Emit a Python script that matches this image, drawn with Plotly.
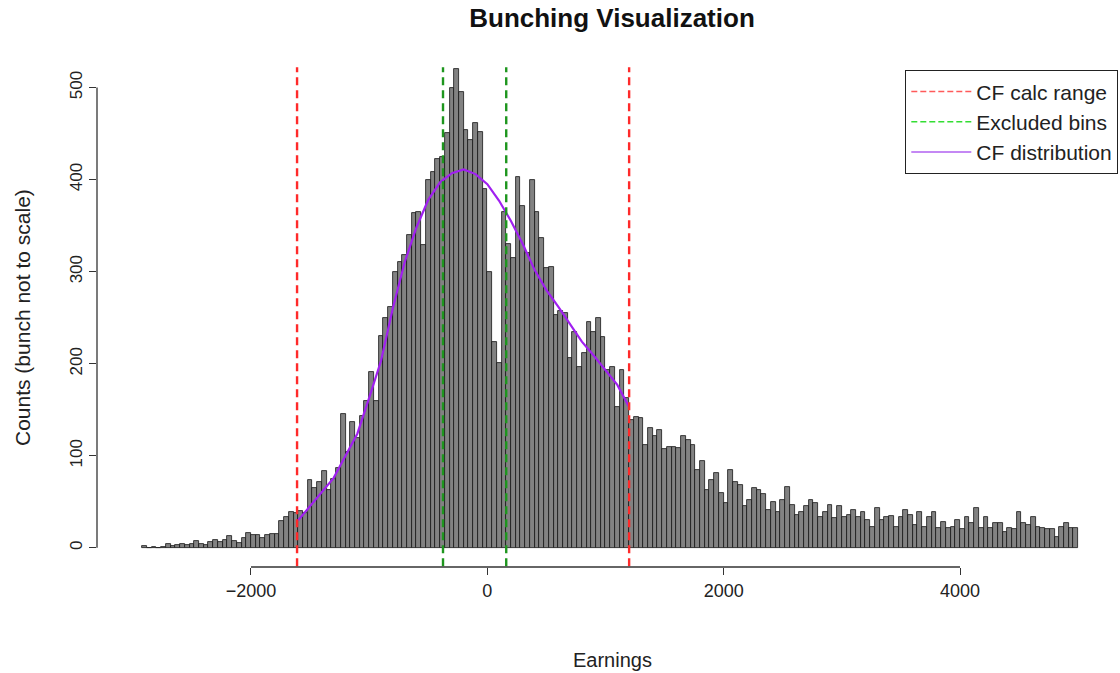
import numpy as np
import plotly.graph_objects as go

# ---------------- data ----------------
BIN_START = -2920
BIN_WIDTH = 40

counts_left = [2, 0, 1, 0, 1, 4, 2, 3, 4, 3, 4, 7, 4, 3, 6, 9, 6, 8, 13, 7,
               5, 11, 16, 14, 14, 11, 14, 15, 15, 29, 34, 39, 38, 40]
counts_rise = [38, 74, 65, 72, 83, 63, 75, 87, 145, 104, 137, 119, 143, 160, 191,
               159, 230, 250, 262, 300, 311, 318, 340, 364, 365, 329]
counts_peak = [400, 408, 422, 425, 451, 500, 520, 495, 454, 443, 462, 452, 390,
               300, 224, 201, 365]
counts_shoulder = [330, 315, 403, 371, 320, 400, 365, 337, 304, 305, 253, 257, 255,
                   206, 235, 197, 212, 245, 235, 250, 229, 193, 197, 153, 193, 163, 139]
counts_tail = [142, 141, 112, 130, 121, 128, 107, 110, 110, 108, 121, 117, 112, 85,
               94, 63, 74, 81, 60, 49, 85, 72, 68, 45, 52, 65, 63, 58, 41, 50, 39,
               52, 66, 47, 36, 39, 45, 52, 49, 34, 39, 47, 32, 45]
counts_far = [33, 36, 41, 33, 39, 30, 23, 43, 30, 33, 35, 23, 33, 41, 36, 25, 39,
              23, 33, 39, 22, 28, 22, 23, 30, 20, 33, 27, 43, 22, 34, 22, 27, 27,
              17, 22, 20, 39, 27, 25, 33, 23, 22, 20, 20, 12, 23, 27, 22, 22]

counts = counts_left + counts_rise + counts_peak + counts_shoulder + counts_tail + counts_far
centers = BIN_START + BIN_WIDTH * (np.arange(len(counts)) + 0.5)

cf_x = [-1600, -1500, -1400, -1300, -1200, -1100, -1000, -900, -800, -700, -600,
        -500, -400, -300, -200, -100, 0, 100, 200, 300, 400, 500, 600, 700, 800,
        900, 1000, 1100, 1200]
cf_y = [30, 45, 60, 76, 100, 124, 163, 203, 260, 310, 348, 378, 397, 407, 411,
        406, 395, 377, 355, 330, 302, 280, 262, 243, 224, 209, 193, 177, 153]

cf_range = [-1610, 1200]
excluded = [-375, 160]

x_ticks = [-2000, 0, 2000, 4000]
y_ticks = [0, 100, 200, 300, 400, 500]

# ---------------- figure ----------------
FONT = "Liberation Sans, Arial, sans-serif"
TXT = "#222222"

fig = go.Figure()
fig.add_trace(go.Bar(
    x=centers, y=counts, width=BIN_WIDTH,
    marker=dict(color="#828282", line=dict(color="#151515", width=0.8)),
    showlegend=False, hoverinfo="x+y"))

fig.add_trace(go.Scatter(x=cf_x, y=cf_y, mode="lines",
                         line=dict(color="#A020F0", width=2.2),
                         showlegend=False))

for v in cf_range:
    fig.add_trace(go.Scatter(x=[v, v], y=[-20, 522], mode="lines",
                             line=dict(color="#FF2A2A", width=2.4, dash="8px,5px"),
                             showlegend=False, hoverinfo="skip"))
for v in excluded:
    fig.add_trace(go.Scatter(x=[v, v], y=[-20, 522], mode="lines",
                             line=dict(color="#1E961E", width=2.4, dash="8px,5px"),
                             showlegend=False, hoverinfo="skip"))

# legend entries
fig.add_trace(go.Scatter(x=[None], y=[None], mode="lines", name="CF calc range",
                         line=dict(color="#FF5A5A", width=1.6, dash="6px,3px")))
fig.add_trace(go.Scatter(x=[None], y=[None], mode="lines", name="Excluded bins",
                         line=dict(color="#33DD33", width=1.6, dash="6px,3px")))
fig.add_trace(go.Scatter(x=[None], y=[None], mode="lines", name="CF distribution",
                         line=dict(color="#B060F0", width=1.6)))

# axis lines (R style: only between first and last tick)
fig.add_shape(type="line", xref="x", yref="paper", x0=x_ticks[0], x1=x_ticks[-1],
              y0=0, y1=0, line=dict(color="#333333", width=1.3))
fig.add_shape(type="line", xref="paper", yref="y", x0=0, x1=0,
              y0=y_ticks[0], y1=y_ticks[-1], line=dict(color="#333333", width=1.3))

PLOT_L, PLOT_R, PLOT_T, PLOT_B = 97, 1118, 50, 567
PW, PH = PLOT_R - PLOT_L, PLOT_B - PLOT_T

fig.update_layout(
    width=1120, height=673,
    margin=dict(l=PLOT_L, r=1120 - PLOT_R, t=PLOT_T, b=673 - PLOT_B, autoexpand=False),
    plot_bgcolor="white", paper_bgcolor="white",
    bargap=0,
    font=dict(family=FONT, size=18, color=TXT),
    title=dict(text="<b>Bunching Visualization</b>", x=612 / 1120, xanchor="center",
               y=1 - 18 / 673, yanchor="middle", xref="container", yref="container",
               font=dict(size=26, color="#111111")),
    xaxis=dict(range=[-3303, 5337], tickvals=x_ticks, ticks="outside", ticklen=7,
               tickcolor="#333333", tickwidth=1.3, showgrid=False, zeroline=False,
               showline=False, tickfont=dict(size=18)),
    yaxis=dict(range=[-20.8, 540.8], tickvals=y_ticks, ticks="outside", ticklen=7,
               tickcolor="#333333", tickwidth=1.3, showgrid=False, zeroline=False,
               showline=False, tickangle=-90, tickfont=dict(size=17)),
    legend=dict(x=1, xanchor="right", y=(PLOT_B - 70) / PH,
                yanchor="top", bgcolor="white", bordercolor="#222222", borderwidth=1.3,
                font=dict(size=21, color=TXT), tracegroupgap=2, itemwidth=60),
    annotations=[
        dict(text="Earnings", xref="paper", yref="paper", x=(612 - PLOT_L) / PW,
             y=(PLOT_B - 660) / PH, xanchor="center", yanchor="middle", showarrow=False,
             font=dict(size=20, color=TXT)),
        dict(text="Counts (bunch not to scale)", xref="paper", yref="paper",
             x=(22 - PLOT_L) / PW, y=(PLOT_B - 318) / PH, xanchor="center",
             yanchor="middle", textangle=-90, showarrow=False,
             font=dict(size=21, color=TXT)),
    ],
)

fig.write_html("out.html", config={"displayModeBar": False},
               post_script="document.body.style.margin='0px';")
